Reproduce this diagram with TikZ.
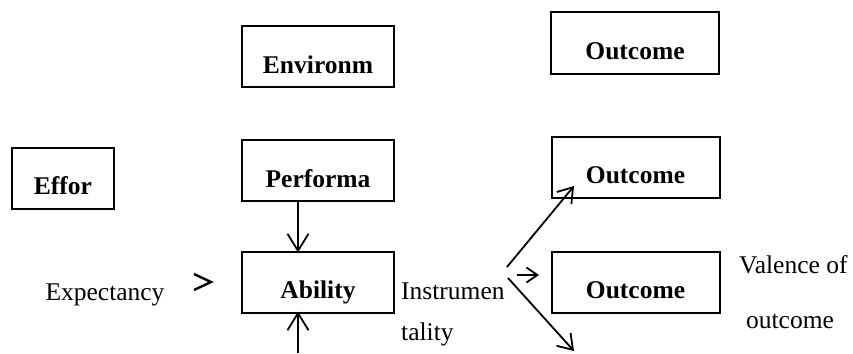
\documentclass[tikz,border=0pt]{standalone}
\usepackage{fontspec}
\setmainfont{Liberation Serif}
\usetikzlibrary{arrows.meta}
\tikzset{
  box/.style={draw, line width=2pt, inner sep=0pt, text height=47pt, text depth=14pt,
    font=\fontsize{25.5}{30}\selectfont\bfseries},
  word/.style={inner sep=0pt, anchor=base, font=\fontsize{25.5}{30}\selectfont},
  barb/.style={-{Straight Barb[length=17pt,width=21pt,line width=1.8pt]}, line width=1.8pt},
  smallbarb/.style={-{Straight Barb[length=11pt,width=15pt,line width=1.8pt]}, line width=1.8pt}
}
\begin{document}
\begin{tikzpicture}[x=1pt,y=-1pt]
      \useasboundingbox (0,0) rectangle (853,353);
      \draw
        (318,56.5) node[box,minimum width=152pt] (env){Environm}
        (635,43) node[box,minimum width=168pt] (out1){Outcome}
        (63,178) node[box,minimum width=102pt] (effor){Effor}
        (318,170.5) node[box,minimum width=152pt] (perf){Performa}
        (635.5,167) node[box,minimum width=168pt] (out2){Outcome}
        (318,282) node[box,minimum width=152pt] (abil){Ability}
        (635.5,282) node[box,minimum width=168pt] (out3){Outcome};
      \draw
        (105,300) node[word] (expect){Expectancy}
        (401,299) node[word,anchor=base west] (instr){Instrumen}
        (401,340) node[word,anchor=base west] (tality){tality}
        (739,273) node[word,anchor=base west] (valence){Valence of}
        (790,328) node[word] (valout){outcome};
      \coordinate (fork) at (507,267);
      \coordinate (forkmid) at (517,275);
      \coordinate (forklow) at (508,278);
      \coordinate (upend) at (574,186);
      \coordinate (midend) at (539,275);
      \coordinate (lowend) at (574,351);
      \coordinate (abilin) at (298,353);
      \begin{scope}[barb]
        \draw ([xshift=-20pt]perf.south) to ([xshift=-20pt,yshift=-2pt]abil.north);
        \draw (abilin) to ([xshift=-20pt,yshift=2pt]abil.south);
      \end{scope}
      \begin{scope}[barb, -{Straight Barb[length=14pt,width=19pt,line width=1.8pt]}]
        \draw (fork) to (upend);
        \draw (forklow) to (lowend);
      \end{scope}
      \draw[smallbarb] (forkmid) to (midend);
      \draw[line width=2.4pt, line join=miter] (194,274) -- (211,282) -- (194,290);
    \end{tikzpicture}
\end{document}
